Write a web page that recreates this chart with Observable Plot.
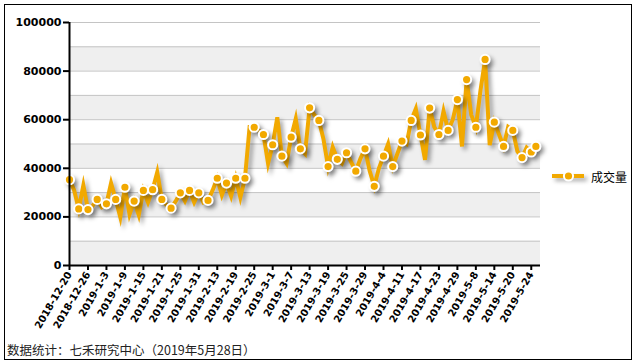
<!DOCTYPE html>
<html>
<head>
<meta charset="utf-8">
<script src="https://cdn.jsdelivr.net/npm/d3@7"></script>
<script src="https://cdn.jsdelivr.net/npm/@observablehq/plot@0.6"></script>
<style>
  html, body { margin: 0; padding: 0; background: #fff; }
  #wrap { position: relative; width: 634px; height: 363px; overflow: hidden; }
  #frame { position: absolute; left: 4px; top: 4px; width: 628px; height: 356px; box-sizing: border-box; border: 1px solid #000; pointer-events: none; }
  #chart { position: absolute; left: 0; top: 0; }
  #legend { position: absolute; left: 549px; top: 166px; height: 20px; display: flex; align-items: center; font-family: "Noto Sans CJK SC", sans-serif; font-size: 12px; color: #000; }
  #caption { position: absolute; left: 7px; top: 340px; font-family: "Noto Sans CJK SC", sans-serif; font-size: 12.5px; color: #222; white-space: nowrap; }
</style>
</head>
<body>
<div id="wrap">
  <div id="chart"></div>
  <div id="legend"></div>
  <div id="caption"></div>
  <div id="frame"></div>
</div>
<script>
// Series: daily trading volume (成交量), trading days 2018-12-20 .. 2019-5-27
const seriesName = "成交量";
const volume = [
  35300, 31000, 23300, 33000, 23000, 24500, 27200, 24000, 25400, 33900,
  27200, 19900, 32200, 21000, 26500, 20800, 30900, 26000, 31200, 38400,
  27200, 25000, 23600, 26500, 29900, 26500, 30900, 26000, 29900, 26000,
  26800, 31000, 35900, 29000, 33900, 28500, 35900, 28000, 35900, 57000,
  56900, 55500, 53900, 42000, 49700, 61000, 45000, 42000, 52800, 60400,
  48000, 46000, 64900, 62000, 59700, 52000, 40700, 48700, 43700, 42000,
  46400, 42500, 38800, 44000, 48000, 39000, 32600, 40000, 45000, 50000,
  40700, 46000, 51200, 50000, 59700, 64500, 53700, 43500, 64800, 57000,
  53900, 63500, 55600, 60000, 68300, 49000, 76500, 62000, 56900, 72000,
  84800, 49500, 59000, 54000, 49000, 57000, 55600, 47000, 44400, 48500,
  46700, 49000
];
// x-axis tick labels (every 4th trading day)
const tickLabels = [
  "2018-12-20", "2018-12-26", "2019-1-3", "2019-1-9", "2019-1-15", "2019-1-21",
  "2019-1-25", "2019-1-31", "2019-2-13", "2019-2-19", "2019-2-25", "2019-3-1",
  "2019-3-7", "2019-3-13", "2019-3-19", "2019-3-25", "2019-3-29", "2019-4-4",
  "2019-4-11", "2019-4-17", "2019-4-23", "2019-4-29", "2019-5-8", "2019-5-14",
  "2019-5-20", "2019-5-24"
];
const yTicks = [0, 20000, 40000, 60000, 80000, 100000];
const gridValues = [10000, 20000, 30000, 40000, 50000, 60000, 70000, 80000, 90000, 100000];
const bandStarts = [0, 20000, 40000, 60000, 80000];
const captionText = "数据统计：七禾研究中心（2019年5月28日）";

const ORANGE = "#F2A900";
const xMax = 102;

const data = volume.map((v, i) => ({i, v}));
const markerData = data.filter(d => d.i % 2 === 0 || d.i === volume.length - 1);
const tickIdx = tickLabels.map((_, k) => k * 4);
const bands = bandStarts.map(s => ({y1: s, y2: s + 10000}));

const plot = Plot.plot({
  width: 634,
  height: 335,
  marginLeft: 69,
  marginRight: 94,
  marginTop: 22,
  marginBottom: 70,
  style: {background: "transparent", overflow: "visible"},
  x: {domain: [0, xMax], axis: null},
  y: {domain: [0, 100000], axis: null},
  marks: [
    Plot.rect(bands, {x1: () => 0, x2: () => xMax, y1: "y1", y2: "y2", fill: "#EFEFEF"}),
    Plot.ruleY(gridValues, {stroke: "#C4C4C4", strokeWidth: 1}),
    Plot.line(data, {x: "i", y: "v", stroke: ORANGE, strokeWidth: 4, strokeLinejoin: "miter", strokeMiterlimit: 6}),
    Plot.dot(markerData, {x: "i", y: "v", r: 4.6, fill: ORANGE, stroke: "#fff", strokeWidth: 2}),
    Plot.axisY(yTicks, {anchor: "left", tickSize: 6, tickPadding: 2, strokeWidth: 2, stroke: "#000",
      tickFormat: d => String(d), fontFamily: "DejaVu Sans", fontWeight: "bold", fontSize: 11, fill: "#000", label: null}),
    Plot.axisX(tickIdx, {anchor: "bottom", tickSize: 5, tickPadding: 2, strokeWidth: 2, stroke: "#000",
      tickRotate: -60, tickFormat: i => tickLabels[i / 4], fontFamily: "DejaVu Sans", fontWeight: "bold", fontSize: 10, fill: "#000", label: null}),
    Plot.ruleX([0], {y1: 0, y2: 100000, stroke: "#000", strokeWidth: 2}),
    Plot.ruleY([0], {x1: 0, x2: xMax, stroke: "#000", strokeWidth: 2})
  ]
});
document.getElementById("chart").appendChild(plot);

// drop shadow on the series line and markers
d3.select(plot).selectAll('g[aria-label="line"], g[aria-label="dot"]')
  .style("filter", "drop-shadow(3px 3px 2px rgba(0,0,0,0.35))");

// legend
const lg = d3.select("#legend");
const ls = lg.append("svg").attr("width", 40).attr("height", 20).style("overflow", "visible");
ls.append("line").attr("x1", 3).attr("x2", 35).attr("y1", 10).attr("y2", 10)
  .attr("stroke", ORANGE).attr("stroke-width", 4)
  .style("filter", "drop-shadow(3px 3px 2px rgba(0,0,0,0.35))");
ls.append("circle").attr("cx", 19.5).attr("cy", 10).attr("r", 4.6)
  .attr("fill", ORANGE).attr("stroke", "#fff").attr("stroke-width", 2);
lg.append("span").text(seriesName).style("margin-left", "2px");

document.getElementById("caption").textContent = captionText;
</script>
</body>
</html>
